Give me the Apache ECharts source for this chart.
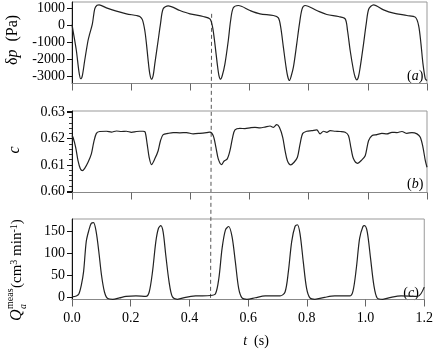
<!DOCTYPE html>
<html>
<head>
<meta charset="utf-8">
<script src="https://cdn.jsdelivr.net/npm/echarts@6/dist/echarts.min.js"></script>
<style>
html, body { margin: 0; padding: 0; background: #fff; }
#chart { width: 436px; height: 350px; }
</style>
</head>
<body>
<div id="chart"></div>
<script>
// time (s) / value pairs
const pressure = [
  [0, 50], [0.0034, -296], [0.0147, -1479], [0.0237, -2761], [0.0293, -3150], [0.035, -2958],
  [0.0429, -2070], [0.0542, -887], [0.0598, -493], [0.0689, 99], [0.0768, 986], [0.0847, 1203],
  [0.0914, 1222], [0.1163, 1045], [0.1501, 848], [0.184, 690], [0.2179, 592], [0.2291, 532],
  [0.2382, 335], [0.2461, -296], [0.2517, -1085], [0.2574, -2070], [0.263, -2860], [0.2687, -3175],
  [0.2743, -2958], [0.2799, -2268], [0.2912, -887], [0.2991, 99], [0.3082, 986], [0.3251, 1163],
  [0.3646, 887], [0.3985, 690], [0.4436, 532], [0.4662, 394], [0.4752, -99], [0.4831, -1085],
  [0.491, -2268], [0.4967, -2958], [0.5023, -3175], [0.508, -2958], [0.517, -2268], [0.5283, -887],
  [0.5362, 296], [0.5452, 1045], [0.5622, 1183], [0.6017, 887], [0.6355, 690], [0.6807, 592],
  [0.6976, 454], [0.7055, -99], [0.7145, -1282], [0.7236, -2465], [0.7292, -3017], [0.7349, -3254],
  [0.7405, -3017], [0.7484, -2465], [0.7597, -1085], [0.7688, 99], [0.7778, 986], [0.7879, 1183],
  [0.8274, 887], [0.8613, 651], [0.9008, 532], [0.9234, 394], [0.9313, -296], [0.9403, -1479],
  [0.9516, -2662], [0.9572, -3057], [0.9629, -3214], [0.9685, -3017], [0.9742, -2465], [0.9855, -1085],
  [0.9945, 99], [1.0035, 986], [1.0193, 1222], [1.0532, 927], [1.0871, 730], [1.1322, 592],
  [1.1604, 493], [1.1717, 0], [1.1796, -1085], [1.1864, -2268], [1.1943, -3155], [1.2, -3254]
]
const concentration = [
  [0, 0.6211], [0.0034, 0.6205], [0.0124, 0.6167], [0.0203, 0.6116], [0.0282, 0.6085], [0.035, 0.6078],
  [0.0429, 0.6087], [0.0542, 0.611], [0.0655, 0.6142], [0.0734, 0.6186], [0.0824, 0.622], [0.0937, 0.6227],
  [0.1163, 0.6228], [0.1332, 0.6225], [0.1501, 0.6229], [0.1671, 0.6227], [0.184, 0.6228], [0.2009, 0.6224],
  [0.2179, 0.6227], [0.2291, 0.6228], [0.2404, 0.6228], [0.2472, 0.6225], [0.254, 0.618], [0.2608, 0.6129],
  [0.2687, 0.6101], [0.2799, 0.6123], [0.2912, 0.6154], [0.2991, 0.6192], [0.3082, 0.6215], [0.3251, 0.622],
  [0.342, 0.6223], [0.3646, 0.6222], [0.3872, 0.6223], [0.4098, 0.6218], [0.4323, 0.622], [0.4549, 0.6223],
  [0.4662, 0.6225], [0.4775, 0.6211], [0.4865, 0.6167], [0.4944, 0.6123], [0.5057, 0.6101], [0.5136, 0.6114],
  [0.5249, 0.6123], [0.5339, 0.6154], [0.543, 0.6205], [0.5509, 0.6233], [0.5678, 0.6239], [0.5847, 0.6238],
  [0.6017, 0.6241], [0.6186, 0.6243], [0.6355, 0.6241], [0.6525, 0.6244], [0.6694, 0.6248], [0.6807, 0.6243],
  [0.692, 0.6253], [0.701, 0.6243], [0.7123, 0.6205], [0.7202, 0.6154], [0.7281, 0.6116], [0.7394, 0.61],
  [0.7507, 0.611], [0.762, 0.6129], [0.771, 0.618], [0.78, 0.622], [0.7936, 0.6228], [0.8105, 0.623],
  [0.8274, 0.6233], [0.8387, 0.6218], [0.85, 0.6228], [0.8613, 0.6224], [0.8726, 0.623], [0.8895, 0.6228],
  [0.9065, 0.6227], [0.9234, 0.6224], [0.9347, 0.6211], [0.9426, 0.6167], [0.9516, 0.6123], [0.9651, 0.6106],
  [0.9798, 0.6119], [0.9911, 0.6135], [1.0024, 0.6192], [1.0137, 0.6211], [1.0306, 0.6215], [1.0475, 0.622],
  [1.0645, 0.6218], [1.0814, 0.6224], [1.0984, 0.6223], [1.1153, 0.6227], [1.1322, 0.622], [1.1491, 0.6223],
  [1.1661, 0.6218], [1.1773, 0.6205], [1.1864, 0.6167], [1.1943, 0.6116], [1.2, 0.6091]
]
const flow = [
  [0, 1], [0.0147, 3], [0.0237, 8], [0.0316, 27], [0.0395, 58], [0.0485, 126], [0.0576, 152],
  [0.0655, 167], [0.0734, 169], [0.0824, 148], [0.0914, 103], [0.1005, 50], [0.1106, 12], [0.1219, -3],
  [0.1388, -4.5], [0.1614, -1.5], [0.184, 2], [0.2179, 3], [0.2517, 2], [0.263, 12], [0.2743, 58],
  [0.2856, 126], [0.2946, 156], [0.3025, 162], [0.3104, 148], [0.3195, 95], [0.3307, 35], [0.342, 1],
  [0.359, -4.5], [0.3872, 0], [0.421, 3], [0.4718, 4], [0.4888, 8], [0.5001, 42], [0.5114, 111],
  [0.5226, 152], [0.5339, 160], [0.5452, 137], [0.5565, 80], [0.5678, 20], [0.5791, -1.5], [0.596, -4.5],
  [0.6242, -1], [0.6581, 3], [0.7089, 3], [0.7258, 12], [0.7371, 58], [0.7484, 126], [0.7597, 160],
  [0.7676, 164], [0.7767, 144], [0.7879, 80], [0.7992, 20], [0.8105, -1.5], [0.8274, -4.5], [0.8613, 0],
  [0.8952, 3], [0.946, 3], [0.9572, 14], [0.9685, 65], [0.9798, 133], [0.9911, 160], [0.9967, 162],
  [1.0058, 148], [1.0171, 88], [1.0284, 27], [1.0396, -1.5], [1.0588, -4.5], [1.0871, 0], [1.1209, 3],
  [1.1773, 2], [1.1887, 8], [1.2, 23]
]
// marker time of the dashed line
const markerTime = 0.472
const panelNames = ['(a)', '(b)', '(c)']

const FONT = 'Liberation Serif'
const chart = echarts.init(document.getElementById('chart'))

const grids = [
  { left: 72, top: 2, width: 355, height: 81.5 },
  { left: 72, top: 111, width: 355, height: 81.5 },
  { left: 72, top: 219, width: 355, height: 80.5 },
].map(g => Object.assign(g, { show: true, borderColor: '#999', borderWidth: 1 }))

const xAxes = [0, 1, 2].map(i => ({
  type: 'value',
  gridIndex: i,
  min: 0,
  max: 1.2,
  interval: 0.2,
  axisLine: { show: true, onZero: false, lineStyle: { color: '#888', width: 1 } },
  axisTick: { show: true, inside: false, length: 7, lineStyle: { color: '#666' } },
  splitLine: { show: false },
  axisLabel: {
    show: i === 2,
    margin: 12,
    fontFamily: FONT,
    fontSize: 14,
    color: '#000',
    formatter: v => v.toFixed(1),
  },
}))

function yAxis(i, min, max, split, fmt, minor) {
  return {
    type: 'value',
    gridIndex: i,
    min: min,
    max: max,
    splitNumber: split,
    axisLine: { show: true, lineStyle: { color: '#111', width: 1 } },
    axisTick: { show: true, inside: false, length: 5, lineStyle: { color: '#111' } },
    minorTick: { show: !!minor, splitNumber: 5, length: 3, lineStyle: { color: '#333' } },
    splitLine: { show: false },
    axisLabel: {
      margin: 7,
      fontFamily: FONT,
      fontSize: 14,
      color: '#000',
      showMinLabel: false,
      showMaxLabel: false,
      formatter: fmt,
    },
  }
}

const yAxes = [
  yAxis(0, -3430, 1390, 5, v => String(Math.round(v))),
  yAxis(1, 0.5995, 0.6305, 3, v => v.toFixed(2), true),
  yAxis(2, -5, 177, 4, v => String(Math.round(v))),
]

const lineSeries = [pressure, concentration, flow].map((d, i) => ({
  type: 'line',
  xAxisIndex: i,
  yAxisIndex: i,
  data: d,
  showSymbol: false,
  smooth: 0.3,
  lineStyle: { color: '#222', width: 1.2 },
  silent: true,
}))

const texts = [
  {
    id: 'ylabA', type: 'text', x: 13, y: 40, rotation: Math.PI / 2,
    style: {
      text: '{n|δ}{i|p}{n|  (Pa)}', align: 'center', verticalAlign: 'middle',
      rich: {
        n: { fontFamily: FONT, fontSize: 16, fill: '#000' },
        i: { fontFamily: FONT, fontSize: 16, fontStyle: 'italic', fill: '#000' },
      },
    },
  },
  {
    id: 'ylabB', type: 'text', x: 15, y: 150, rotation: Math.PI / 2,
    style: { text: 'c', fontFamily: FONT, fontSize: 16, fontStyle: 'italic', fill: '#000', align: 'center', verticalAlign: 'middle' },
  },
  {
    id: 'ylabC', type: 'group', x: 17, y: 321, rotation: Math.PI / 2,
    children: [
      { type: 'text', x: 0, y: 0, style: { text: 'Q', fontFamily: FONT, fontSize: 16, fontStyle: 'italic', fill: '#000', align: 'left', verticalAlign: 'middle' } },
      { type: 'text', x: 12, y: -7, style: { text: 'meas', fontFamily: FONT, fontSize: 10, fill: '#000', align: 'left', verticalAlign: 'middle' } },
      { type: 'text', x: 12, y: 6, style: { text: 'a', fontFamily: FONT, fontSize: 10, fontStyle: 'italic', fill: '#000', align: 'left', verticalAlign: 'middle' } },
      {
        type: 'text', x: 33, y: 0,
        style: {
          text: '{n|(cm}{s|3}{n| min}{s|-1}{n|)}', align: 'left', verticalAlign: 'middle',
          rich: {
            n: { fontFamily: FONT, fontSize: 15, lineHeight: 16, fill: '#000' },
            s: { fontFamily: FONT, fontSize: 10, lineHeight: 10, verticalAlign: 'top', fill: '#000' },
          },
        },
      },
    ],
  },
  {
    id: 'xlab', type: 'text', x: 256, y: 341,
    style: {
      text: '{i|t}{n|  (s)}', align: 'center', verticalAlign: 'middle',
      rich: {
        n: { fontFamily: FONT, fontSize: 14, fill: '#000' },
        i: { fontFamily: FONT, fontSize: 14, fontStyle: 'italic', fill: '#000' },
      },
    },
  },
]

chart.setOption({
  animation: false,
  backgroundColor: '#fff',
  grid: grids,
  xAxis: xAxes,
  yAxis: yAxes,
  series: lineSeries,
  graphic: texts,
})

// panel tags and dashed marker, placed through the axes
const tagAnchors = [[1.16, -3000, 0], [1.16, 0.6027, 1], [1.155, 10, 2]]
const tags = tagAnchors.map((a, k) => {
  const p = chart.convertToPixel({ gridIndex: a[2] }, [a[0], a[1]])
  const name = panelNames[k]
  return {
    id: 'tag' + k, type: 'text', x: p[0], y: p[1],
    style: {
      text: '{n|(}{i|' + name.slice(1, 2) + '}{n|)}', align: 'center', verticalAlign: 'middle',
      rich: {
        n: { fontFamily: FONT, fontSize: 14, fill: '#000' },
        i: { fontFamily: FONT, fontSize: 14, fontStyle: 'italic', fill: '#000' },
      },
    },
  }
})
const markTop = chart.convertToPixel({ gridIndex: 0 }, [markerTime, 690])
const markBottom = chart.convertToPixel({ gridIndex: 2 }, [markerTime, -5])
chart.setOption({
  graphic: tags.concat([{
    id: 'marker', type: 'line',
    shape: { x1: markTop[0], y1: markTop[1], x2: markBottom[0], y2: markBottom[1] },
    style: { stroke: '#555', lineWidth: 1, lineDash: [4, 3] },
  }]),
})
</script>
</body>
</html>
